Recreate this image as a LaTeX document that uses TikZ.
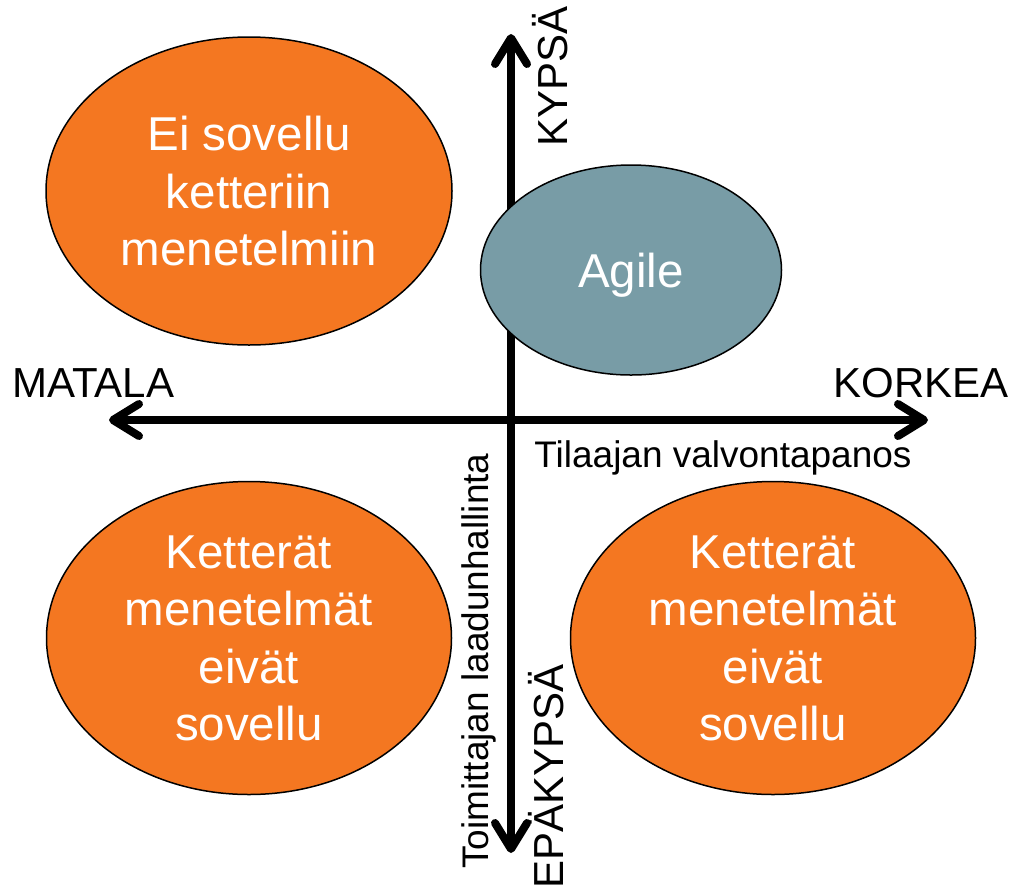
\documentclass[tikz,border=0pt]{standalone}
\usepackage{fontspec}
\setmainfont{Liberation Sans}
\usetikzlibrary{shapes.geometric, arrows.meta}
\definecolor{oranssi}{RGB}{244,119,33}
\definecolor{harmaa}{RGB}{120,156,166}
\tikzset{
x=1pt, y=-1pt, % one unit is one pixel, y runs downwards
akseli/.style={line width=8pt, {Straight Barb[length=26pt,width=32pt,round]}-{Straight Barb[length=26pt,width=32pt,round]}}, % the two axes
pallo/.style={ellipse, draw=black, line width=1.5pt, fill=oranssi, text=white, inner sep=0pt, text depth=0pt, align=center, font=\fontsize{47.5}{57.5}\selectfont}, % the four fields
iso/.style={font=\fontsize{42}{50}\selectfont, inner sep=0pt}, % axis end labels
pieni/.style={font=\fontsize{37}{44}\selectfont, inner sep=0pt}, % axis names
}

\begin{document}
\begin{tikzpicture}
      \useasboundingbox (0,0) rectangle (1011,887);
      \coordinate (vasen) at (109,420);
      \coordinate (oikea) at (928,420);
      \coordinate (yla) at (511,34);
      \coordinate (ala) at (511,853);
      \draw[akseli] (vasen) -- (oikea);
      \draw[akseli] (ala) -- (yla);
      \node[pallo, minimum width=406pt, minimum height=308pt] (eisov) at (249,191) {Ei sovellu\\ketteriin\\menetelmiin};
      \node[pallo, fill=harmaa, minimum width=301pt, minimum height=210pt] (agile) at (631,270) {Agile};
      \node[pallo, minimum width=405pt, minimum height=313pt] (kett1) at (249,638) {Ketterät\\menetelmät\\eivät\\sovellu};
      \node[pallo, minimum width=405pt, minimum height=313pt] (kett2) at (773,638) {Ketterät\\menetelmät\\eivät\\sovellu};
      \node[iso, anchor=base west] (matala) at (12,397) {MATALA};
      \node[iso, anchor=base east] (korkea) at (1009,397) {KORKEA};
      \node[iso, rotate=90, anchor=base west] (kypsa) at (567,147) {KYPSÄ};
      \node[iso, rotate=90, anchor=base west] (epakypsa) at (563,889) {EPÄKYPSÄ};
      \node[pieni, anchor=base] (tilaaja) at (723,467) {Tilaajan valvontapanos};
      \node[pieni, rotate=90, anchor=base west] (toimittaja) at (488,869) {Toimittajan laadunhallinta};
    \end{tikzpicture}
\end{document}
